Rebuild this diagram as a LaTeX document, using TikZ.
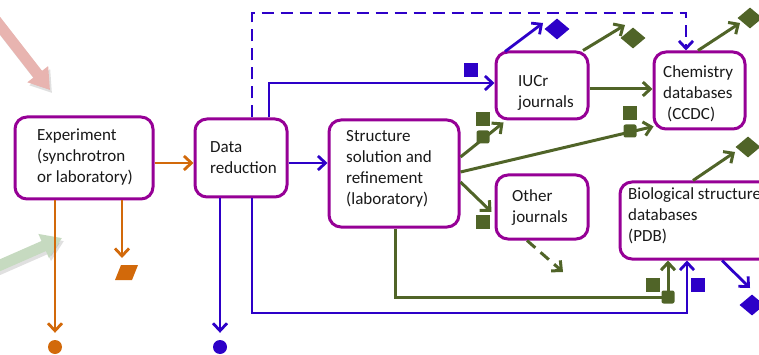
\documentclass[tikz,border=0pt]{standalone}
\usepackage{fontspec}
\setmainfont{Carlito}
\usetikzlibrary{arrows.meta,calc,shapes.geometric}
\definecolor{boxpurple}{RGB}{150,0,150}
\definecolor{orangec}{RGB}{210,105,10}
\definecolor{bluec}{RGB}{45,0,200}
\definecolor{greenc}{RGB}{80,100,40}
\definecolor{pinkc}{RGB}{232,180,176}
\definecolor{palegreen}{RGB}{198,218,192}
\definecolor{textgray}{RGB}{25,25,25}
\begin{document}
\begin{tikzpicture}[x=1pt,y=-1pt,
  box/.style={draw=boxpurple, line width=3pt, rounded corners=12pt, fill=white, inner sep=0pt},
  lbl/.style={anchor=west, align=left, inner sep=0pt, font=\fontsize{17pt}{21pt}\selectfont, text=textgray},
  tipb/.style={-{Straight Barb[length=7.5pt,width=14pt]}},
  oline/.style={draw=orangec, line width=2.8pt, tipb},
  bline/.style={draw=bluec, line width=2.8pt, tipb},
  gline/.style={draw=greenc, line width=3pt, tipb},
  sqmark/.style={rectangle, fill=#1, minimum size=14pt, inner sep=0pt},
  onmark/.style={rectangle, rounded corners=2pt, fill=#1, minimum size=13pt, inner sep=0pt},
  dmmark/.style={diamond, fill=#1, minimum width=25pt, minimum height=21pt, inner sep=0pt},
  dotmark/.style={circle, fill=#1, minimum size=14pt, inner sep=0pt},
  bigarrow/.style={line width=11pt, -{Triangle[length=20pt,width=25pt]}}
]
\useasboundingbox (0,0) rectangle (759,355);
\clip (0,0) rectangle (759,355);

% wide faded arrows entering from the left edge
\draw[bigarrow, black, opacity=0.12] (-18,3) -- (52,93);
\draw[bigarrow, pinkc] (-20,0) -- (50,90);
\draw[bigarrow, black, opacity=0.12] (-18,277) -- (64,241);
\draw[bigarrow, palegreen] (-20,274) -- (62,238);

% process boxes
\node[box, minimum width=138pt, minimum height=82pt] (exp) at (84,158) {};
\node[box, minimum width=92pt, minimum height=78pt] (dr) at (241,158) {};
\node[box, minimum width=130pt, minimum height=107pt] (ss) at (394,173.5) {};
\node[box, minimum width=92pt, minimum height=67pt] (iucr) at (542,85.5) {};
\node[box, minimum width=91pt, minimum height=77pt] (chem) at (699.5,90.5) {};
\node[box, minimum width=92pt, minimum height=64pt] (oth) at (542,207) {};
\node[box, minimum width=160pt, minimum height=77pt] (bio) at (700,220.5) {};

% box labels
\node[lbl] (exp-t) at (37,157.5) {Experiment\\(synchrotron\\or laboratory)};
\node[lbl] (dr-t) at (210,158) {Data\\reduction};
\node[lbl] (ss-t) at (346,169) {Structure\\solution and\\refinement\\(laboratory)};
\node[lbl] (iucr-t) at (518,92.5) {IUCr\\journals};
\node[lbl] (chem-t) at (663,94) {Chemistry\\databases\\\hspace{4pt}(CCDC)};
\node[lbl] (oth-t) at (512,208) {Other\\journals};
\node[lbl] (bio-t) at (628,216) {Biological structure\\databases\\(PDB)};

% end symbols
\node[dotmark=orangec] (odot) at (55,347) {};
\coordinate (opar) at (126.5,272.5);
\fill[orangec] ($(opar)+(-11.5,7.5)$) -- ($(opar)+(5.5,7.5)$) -- ($(opar)+(11.5,-7.5)$) -- ($(opar)+(-5.5,-7.5)$) -- cycle;
\coordinate (ox) at (122,0);
\coordinate (otip) at (122,258);
\node[dotmark=bluec] (bdot) at (220,347) {};

% free ends of the open arrows
\coordinate (dtop) at (252,13);
\coordinate (bbot) at (252,313);
\coordinate (gbot) at (395,297);
\coordinate (iucr-b) at (543,23);
\coordinate (iucr-g) at (625,25);
\coordinate (chem-g) at (740,23);
\coordinate (bio-g) at (735,152);
\coordinate (bio-b) at (750,288);
\coordinate (oth-g) at (563,272);

% orange connectors
\draw[oline] ($(exp.east)+(0,5)$) -- ($(dr.west)+(0,5)$);
\draw[oline] (exp.south -| odot) -- ([yshift=7pt]odot.north);
\draw[oline] (exp.south -| ox) -- (otip);

% blue connectors
\draw[bline] ($(dr.east)+(0,5)$) -- ($(ss.west)+(0,-10.5)$);
\draw[bline] (dr.south -| bdot) -- ([yshift=7pt]bdot.north);
\draw[bline] ($(dr.north)+(28,0)$) |- ($(iucr.west)+(0,-2.5)$);
\draw[bline, dash pattern=on 12pt off 7pt] ($(dr.north)+(11,0)$) -- (dtop) -| ($(chem.north)+(-13.5,0)$);
\draw[bline] ($(dr.south)+(11,0)$) -- (bbot) -| ($(bio.south)+(-13,0)$);
\draw[bline] ($(iucr.north)+(-37,1)$) -- (iucr-b);
\draw[bline] ($(bio.south)+(22,0)$) -- (bio-b);

% green connectors
\draw[gline] ($(iucr.east)+(0,3.5)$) -- ($(chem.west)+(0,-1.5)$);
\draw[gline] ($(iucr.north)+(41,0)$) -- (iucr-g);
\draw[gline] ($(chem.north)+(-1.5,0)$) -- (chem-g);
\draw[gline] ($(bio.north)+(-7,0)$) -- (bio-g);
\draw[gline] ($(ss.east)+(0,-16.5)$) -- ($(iucr.south west)+(9,2)$);
\draw[gline] ($(ss.east)+(0,-1.5)$) -- ($(chem.south west)+(1,-4)$);
\draw[gline] ($(ss.east)+(0,8.5)$) -- ($(oth.west)+(-3,5)$);
\draw[gline, dash pattern=on 11pt off 7pt] ($(oth.south)+(-15,0)$) -- (oth-g);
\draw[gline] ($(ss.south)+(1,0)$) -- (gbot) -| ($(bio.south)+(-32,0)$);

% status markers
\node[sqmark=bluec] (m1) at (471,70) {};
\node[sqmark=bluec] (m2) at (698,285) {};
\node[dmmark=bluec] (m3) at (557,29) {};
\node[dmmark=bluec] (m4) at (752,305) {};
\node[dmmark=greenc] (m5) at (633,38) {};
\node[dmmark=greenc] (m6) at (750,18) {};
\node[dmmark=greenc] (m7) at (748,147) {};
\node[sqmark=greenc] (m8) at (483,119) {};
\node[sqmark=greenc] (m9) at (630,113) {};
\node[sqmark=greenc] (m10) at (483,222) {};
\node[sqmark=greenc] (m11) at (653,285) {};
\node[onmark=greenc] (m12) at (483,137) {};
\node[onmark=greenc] (m13) at (630,131) {};
\node[onmark=greenc] (m14) at (668,297) {};
\end{tikzpicture}
\end{document}
